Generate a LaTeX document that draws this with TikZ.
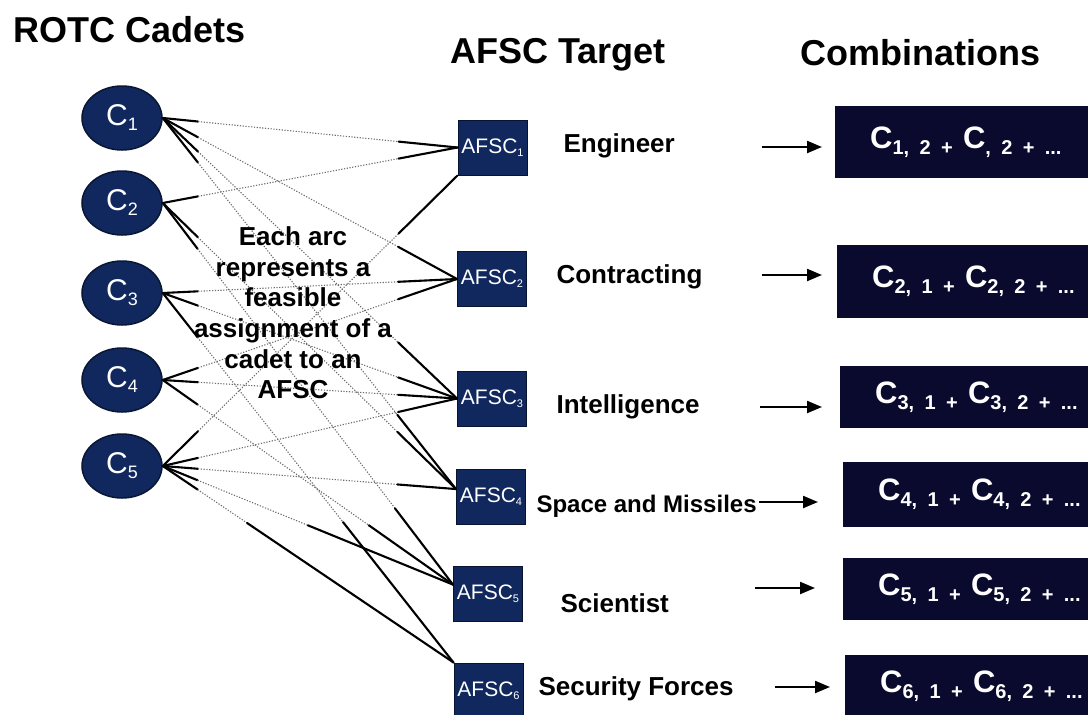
\documentclass[tikz,border=0pt]{standalone}
\usepackage{fontspec}
\setmainfont{Liberation Sans}
\usetikzlibrary{shapes.geometric,calc,arrows.meta}

\definecolor{navy}{HTML}{10285E}
\definecolor{inknavy}{HTML}{0A0A2E}

% lowered indices
\newcommand\csub[1]{\raisebox{-5pt}{\fontsize{18}{18}\selectfont #1}}
\newcommand\asub[1]{\raisebox{-3pt}{\fontsize{11}{11}\selectfont #1}}
\newcommand\ssub[1]{\raisebox{-6pt}{\fontsize{20}{20}\selectfont #1}}
\newcommand\combo[2]{C\ssub{#1 +} C\ssub{#2 +} \ssub{...}}

% one feasible assignment: firm ends, faint middle
\newcommand\feasible[3][0.8]{%
  \draw[firm] (#2.east) -- ($(#2.east)!0.12!(#3)$);
  \draw[faint] ($(#2.east)!0.12!(#3)$) -- ($(#2.east)!#1!(#3)$);
  \draw[firm] ($(#2.east)!#1!(#3)$) -- (#3);
}

\begin{document}
\begin{tikzpicture}[x=1pt, y=-1pt,
    cadet/.style={ellipse, draw=navy!55!black, line width=1.5pt, fill=navy,
      text=white, minimum width=80pt, minimum height=64pt, inner sep=0pt,
      font=\fontsize{30}{30}\selectfont},
    afsc/.style={rectangle, draw=navy!50!black, line width=1pt, fill=navy,
      text=white, minimum width=69pt, minimum height=55pt, inner sep=0pt,
      font=\fontsize{21}{21}\selectfont},
    combo/.style={rectangle, fill=inknavy, text=white, anchor=west,
      text width=260pt, align=left, inner xsep=35pt, inner ysep=0pt,
      font=\fontsize{31}{31}\selectfont\bfseries},
    job/.style={anchor=base west, font=\fontsize{26}{26}\selectfont\bfseries},
    heading/.style={anchor=base west, font=\fontsize{36}{36}\selectfont\bfseries},
    firm/.style={line width=2.1pt, black, line cap=round},
    faint/.style={line width=1.1pt, gray!85!black, dash pattern=on 1.2pt off 1.6pt},
    pointer/.style={-{Triangle[length=15pt,width=12pt]}, line width=2.2pt}]
  \useasboundingbox (0,0) rectangle (1088,715);

  \node [heading] (h_c) at (10,42) {ROTC Cadets};
  \node [heading] (h_a) at (447,63) {AFSC Target};
  \node [heading] (h_s) at (797,65) {Combinations};

  \node [cadet] (c_1) at (122,118) {C\csub{1}};
  \node [cadet] (c_2) at (122,203) {C\csub{2}};
  \node [cadet] (c_3) at (122,293) {C\csub{3}};
  \node [cadet] (c_4) at (122,380) {C\csub{4}};
  \node [cadet] (c_5) at (122,466) {C\csub{5}};

  \node [afsc] (a_1) at (492.5,147.5) {AFSC\asub{1}};
  \node [afsc] (a_2) at (492,279) {AFSC\asub{2}};
  \node [afsc] (a_3) at (492,398.5) {AFSC\asub{3}};
  \node [afsc] (a_4) at (491,496.5) {AFSC\asub{4}};
  \node [afsc] (a_5) at (488,594) {AFSC\asub{5}};
  \node [afsc] (a_6) at (488.5,690.5) {AFSC\asub{6}};

  % arcs
  \feasible{c_1}{a_1.west}
  \feasible{c_1}{a_2.west}
  \feasible{c_1}{a_3.west}
  \feasible{c_1}{a_4.168}
  \feasible{c_2}{a_1.west}
  \feasible{c_2}{a_4.168}
  \feasible{c_2}{a_5.165}
  \feasible{c_3}{a_2.west}
  \feasible{c_3}{a_3.west}
  \feasible[0.62]{c_3}{a_6.north west}
  \feasible{c_4}{a_2.west}
  \feasible{c_4}{a_3.west}
  \feasible[0.71]{c_4}{a_5.165}
  \feasible{c_5}{a_1.south west}
  \feasible{c_5}{a_3.west}
  \feasible{c_5}{a_4.168}
  \feasible[0.5]{c_5}{a_5.165}
  \feasible[0.29]{c_5}{a_6.north west}

  \node [align=center, font=\fontsize{26}{30.6}\selectfont\bfseries] (note)
    at (293,313) {Each arc\\represents a\\feasible\\assignment of a\\cadet to an\\AFSC};

  \node [job] (j_1) at (560,152) {Engineer};
  \node [job] (j_2) at (553,283) {Contracting};
  \node [job] (j_3) at (553,413) {Intelligence};
  \node [job, font=\fontsize{24}{24}\selectfont\bfseries] (j_4) at (533,512) {Space and Missiles};
  \node [job] (j_5) at (557,612) {Scientist};
  \node [job] (j_6) at (535,695) {Security Forces};

  \node [combo, minimum height=72pt] (s_1) at (835,142) {\combo{1, 2}{, 2}};
  \node [combo, minimum height=73pt] (s_2) at (837,281.5) {\combo{2, 1}{2, 2}};
  \node [combo, minimum height=62pt] (s_3) at (840,397) {\combo{3, 1}{3, 2}};
  \node [combo, minimum height=65pt] (s_4) at (843,494.5) {\combo{4, 1}{4, 2}};
  \node [combo, minimum height=62pt] (s_5) at (843,589) {\combo{5, 1}{5, 2}};
  \node [combo, minimum height=62pt] (s_6) at (845,686) {\combo{6, 1}{6, 2}};

  \coordinate (t_1) at (762,147);
  \coordinate (t_2) at (762,275);
  \coordinate (t_3) at (760,407);
  \coordinate (t_4) at (759,502);
  \coordinate (t_5) at (755,588);
  \coordinate (t_6) at (775,687);
    \draw[pointer, shorten >=13pt] (t_1) -- (t_1 -| s_1.west);
    \draw[pointer, shorten >=15pt] (t_2) -- (t_2 -| s_2.west);
    \draw[pointer, shorten >=18pt] (t_3) -- (t_3 -| s_3.west);
    \draw[pointer, shorten >=25pt] (t_4) -- (t_4 -| s_4.west);
    \draw[pointer, shorten >=28pt] (t_5) -- (t_5 -| s_5.west);
    \draw[pointer, shorten >=15pt] (t_6) -- (t_6 -| s_6.west);
\end{tikzpicture}
\end{document}
